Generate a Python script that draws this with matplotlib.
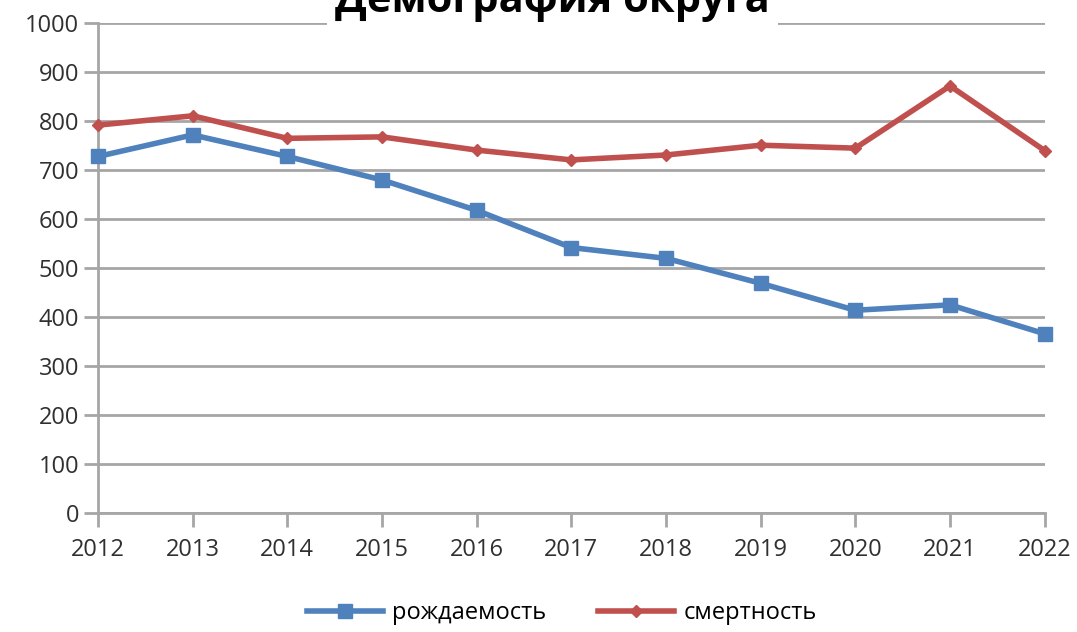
import matplotlib
matplotlib.use("Agg")
import matplotlib.pyplot as plt

plt.rcParams['font.family'] = ['Open Sans', 'DejaVu Sans']

years = [2012, 2013, 2014, 2015, 2016, 2017, 2018, 2019, 2020, 2021, 2022]
births = [727, 771, 727, 679, 617, 541, 519, 468, 413, 424, 365]
deaths = [791, 810, 764, 767, 740, 720, 730, 750, 744, 871, 739]
y_ticks = [0, 100, 200, 300, 400, 500, 600, 700, 800, 900, 1000]

blue = "#4F81BD"
red = "#C0504D"
grid_col = "#A6A6A6"

fig = plt.figure(figsize=(10.77, 6.32), dpi=100)
ax = fig.add_axes([0.091, 0.189, 0.879, 0.775])

ax.plot(years, births, color=blue, linewidth=4, marker="s", markersize=10,
        label="рождаемость", clip_on=False, zorder=3)
ax.plot(years, deaths, color=red, linewidth=4, marker="D", markersize=6,
        label="смертность", clip_on=False, zorder=3)

ax.set_xlim(2012, 2022)
ax.set_ylim(0, 1000)
ax.set_xticks(years)
ax.set_yticks(y_ticks)
ax.yaxis.grid(True, color=grid_col, linewidth=2)
ax.set_axisbelow(True)

for side in ["top", "right"]:
    ax.spines[side].set_visible(False)
for side in ["left", "bottom"]:
    ax.spines[side].set_color(grid_col)
    ax.spines[side].set_linewidth(2)
ax.tick_params(axis="both", colors=grid_col, width=2, length=10,
               labelsize=17, labelcolor="#303030")
ax.tick_params(axis="x", pad=8)

# title sits partly above the top edge, as in the source image
fig.text(0.513, 0.981, "Демография округа", ha="center", va="baseline",
         fontsize=30, fontweight="bold", color="black",
         bbox=dict(facecolor="white", edgecolor="none", pad=6))

ax.legend(loc="center", bbox_to_anchor=(0.49, -0.205), ncol=2, frameon=False,
          fontsize=17, handlelength=3.2, columnspacing=2.2, handletextpad=0.4)

fig.savefig("out.png", dpi=100)
